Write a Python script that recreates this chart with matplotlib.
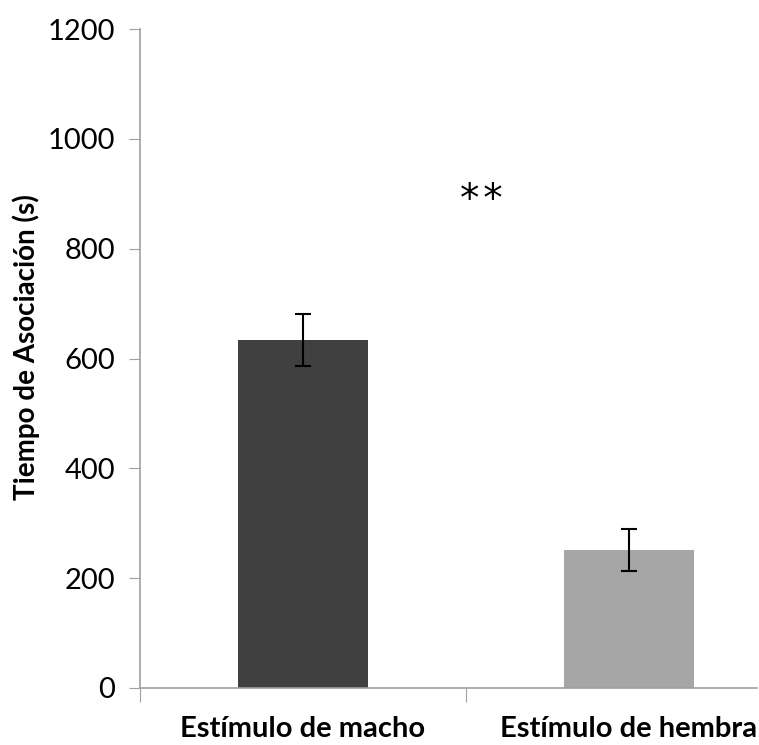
import numpy as np
import matplotlib.pyplot as plt

categories = ['Estímulo de macho', 'Estímulo de hembra']
means = [634, 251]
errors = [47, 38]
bar_colors = ['#404040', '#a6a6a6']
y_ticks = [0, 200, 400, 600, 800, 1000, 1200]

plt.rcParams['font.family'] = ['Lato', 'DejaVu Sans']

fig = plt.figure(figsize=(7.59, 7.45), dpi=100)
ax = fig.add_axes([140/759, 57/745, 617/759, 659/745])

x = np.arange(len(categories))
ax.bar(x, means, width=0.4, color=bar_colors, zorder=2)
ax.errorbar(x, means, yerr=errors, fmt='none', ecolor='black',
            elinewidth=1.5, capsize=6, capthick=1.5, zorder=3)

# significance mark
ax.text(0.546, 869, '*\u200a*', ha='center', va='baseline', fontsize=28,
        family='DejaVu Sans')

ax.set_ylim(0, 1200)
ax.set_yticks(y_ticks)
ax.tick_params(axis='y', labelsize=21, length=8, color='#a0a0a0', pad=10)

# category boundaries as ticks, labels as minor ticks
ax.set_xticks([-0.5, 0.5])
ax.set_xticklabels([])
ax.set_xticks(x, minor=True)
ax.set_xticklabels(categories, minor=True, fontsize=21, fontweight='bold')
ax.tick_params(axis='x', which='major', length=10, color='#a0a0a0')
ax.tick_params(axis='x', which='minor', length=0, pad=20)
ax.set_xlim(-0.5, 1.393)

ax.set_ylabel('Tiempo de Asociación (s)', fontsize=20, fontweight='bold', va='center')
ax.yaxis.set_label_coords(-114/617, 0.517)

for side in ['top', 'right']:
    ax.spines[side].set_visible(False)
for side in ['left', 'bottom']:
    ax.spines[side].set_color('#a0a0a0')
    ax.spines[side].set_linewidth(1.2)

fig.savefig('out.png', dpi=100)
